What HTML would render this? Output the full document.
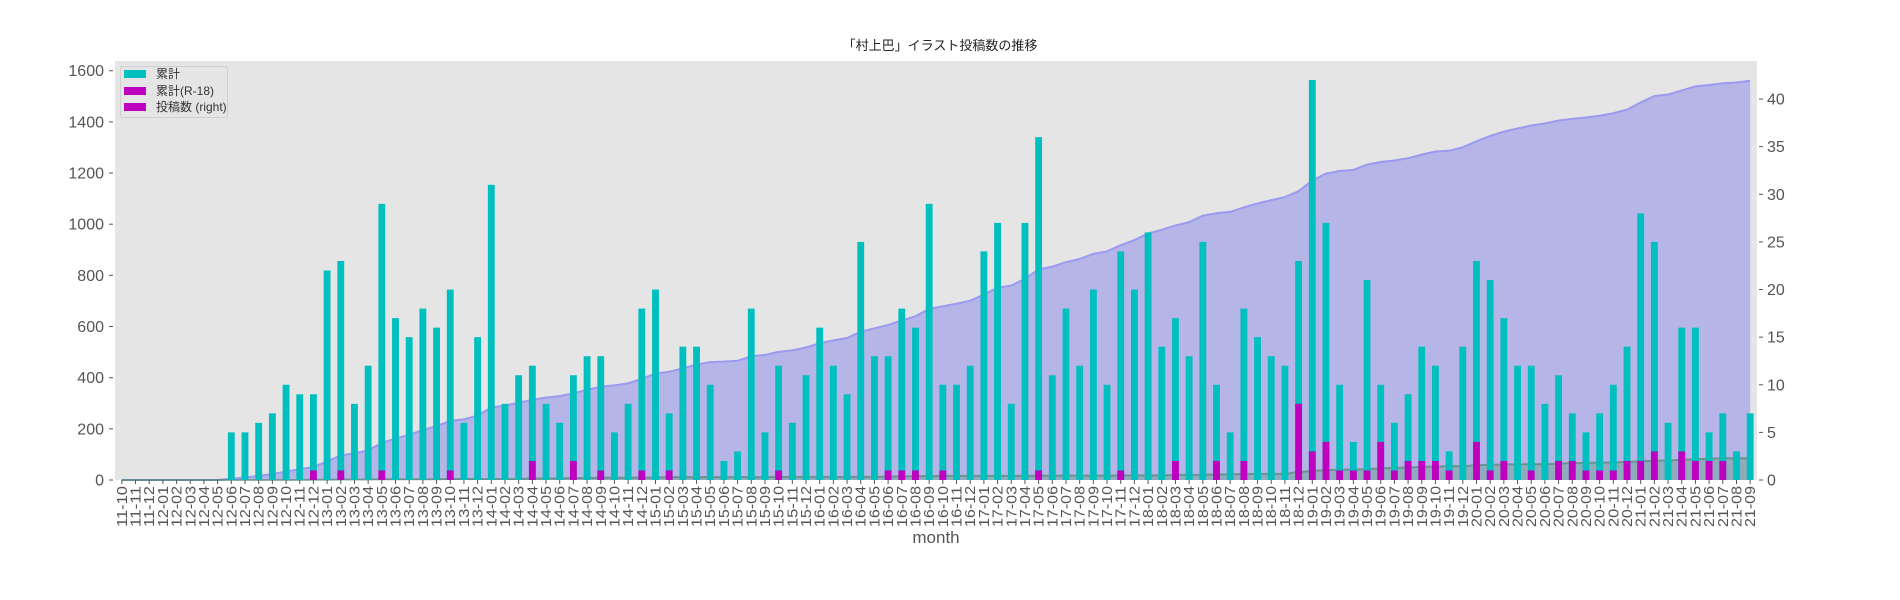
<!DOCTYPE html>
<html><head><meta charset="utf-8">
<style>
html,body{margin:0;padding:0;background:#fff;}
svg{display:block;}
text{font-family:"Liberation Sans Narrow","Liberation Sans","Noto Sans CJK JP",sans-serif;}
.cjk{font-family:"Liberation Sans","Noto Sans CJK JP",sans-serif;}
</style></head>
<body>
<svg id="chart" width="1900" height="600" viewBox="0 0 1900 600" xmlns="http://www.w3.org/2000/svg">
  <rect x="0" y="0" width="1900" height="600" fill="#ffffff"/>
  <text x="940" y="50" text-anchor="middle" font-size="13" fill="#222" class="cjk">「村上巴」イラスト投稿数の推移</text>
  <rect x="115" y="61" width="1642" height="419" fill="#e5e5e5"/>
  <g id="areas"></g>
  <g id="bars"></g>
  <g id="xaxis"></g>
  <g id="yleft"></g>
  <g id="yright"></g>
  <text x="936" y="543" text-anchor="middle" font-size="17" fill="#555">month</text>
  <g>
    <rect x="120.5" y="66.5" width="107" height="51" rx="2" fill="#e5e5e5" stroke="#d0d0d0"/>
    <rect x="124" y="70" width="22" height="8" fill="#00bfbf"/>
    <text x="156" y="78" font-size="12" fill="#333" class="cjk">累計</text>
    <rect x="124" y="87" width="22" height="8" fill="#bf00bf"/>
    <text x="156" y="95" font-size="12" fill="#333" class="cjk">累計(R-18)</text>
    <rect x="124" y="103" width="22" height="8" fill="#bf00bf"/>
    <text x="156" y="111" font-size="12" fill="#333" class="cjk">投稿数 (right)</text>
  </g>
</svg>
<script>
const months = [];
const years = ['11','12','13','14','15','16','17','18','19','20','21'];
for (const y of years) for (let m = 1; m <= 12; m++) {
  const lab = y + '-' + String(m).padStart(2,'0');
  if ((y === '11' && m < 10) || (y === '21' && m > 9)) continue;
  months.push(lab);
}
const posts = [0,0,0,0,0,0,0,0,
 5,5,6,7,10,9,9,22,23,8,12,29,17,
 15,18,16,20,6,15,31,8,11,12,8,6,11,13,13,5,8,18,20,7,
 14,14,10,2,3,18,5,12,6,11,16,12,9,25,13,13,18,16,29,
 10,10,12,24,27,8,27,36,11,18,12,20,10,24,20,26,14,17,13,25,
 10,5,18,15,13,12,23,42,27,10,4,21,10,6,9,14,12,3,14,
 23,21,17,12,12,8,11,7,5,7,10,14,28,25,6,16,16,5,7,3,7];
const postsR18 = [0,0,0,0,0,0,0,0,
 0,0,0,0,0,0,1,0,1,0,0,1,0,
 0,0,0,1,0,0,0,0,0,2,0,0,2,0,1,0,0,1,0,1,
 0,0,0,0,0,0,0,1,0,0,0,0,0,0,0,1,1,1,0,
 1,0,0,0,0,0,0,1,0,0,0,0,0,1,0,0,0,2,0,0,
 2,0,2,0,0,0,8,3,4,1,1,1,4,1,2,2,2,1,0,
 4,1,2,0,1,0,2,2,1,1,1,2,2,3,0,3,2,2,2,0,0];
const leftTicks = [0,200,400,600,800,1000,1200,1400,1600];
const rightTicks = [0,5,10,15,20,25,30,35,40];

const L=115, R=1757, T=61, B=480, LMAX=1638, RMAX=44.0;
const n = months.length, step = (R-L)/n;
const xOf = i => L + (i+0.5)*step;
const yL = v => B - v*(B-T)/LMAX;
const yR = v => B - v*(B-T)/RMAX;
const NS='http://www.w3.org/2000/svg';
function mk(tag, attrs, parent){const e=document.createElementNS(NS,tag);for(const k in attrs)e.setAttribute(k,attrs[k]);parent.appendChild(e);return e;}

// cumulative series
const cum=[], cumR=[]; let s=0, sr=0;
for(let i=0;i<n;i++){s+=posts[i];sr+=postsR18[i];cum.push(s);cumR.push(sr);}
const areas=document.getElementById('areas');
function areaPath(arr){let d='M'+xOf(0)+','+yL(0);arr.forEach((v,i)=>d+=' L'+xOf(i)+','+yL(v));d+=' L'+xOf(n-1)+','+yL(0)+' Z';return d;}
function linePath(arr){return arr.map((v,i)=>(i?'L':'M')+xOf(i)+','+yL(v)).join(' ');}
const a1=mk('path',{d:areaPath(cum),fill:'#b5b5e8'},areas);


const l1=mk('path',{d:linePath(cum),fill:'none',stroke:'#9a9af0','stroke-width':2},areas);


const a2=mk('path',{d:areaPath(cumR),fill:'rgba(80,150,110,0.35)'},areas);


const l2=mk('path',{d:linePath(cumR),fill:'none',stroke:'rgba(70,130,100,0.6)','stroke-width':2},areas);



// bars
const bars=document.getElementById('bars');
const bw=step*0.5;
for(let i=0;i<n;i++){
  if(posts[i]>0){
    const b=mk('rect',{x:xOf(i)-bw/2,y:yR(posts[i]),width:bw,height:B-yR(posts[i]),fill:'#00bfbf'},bars);
    
    
  }
  if(postsR18[i]>0){
    const m=mk('rect',{x:xOf(i)-bw/2,y:yR(postsR18[i]),width:bw,height:B-yR(postsR18[i]),fill:'#bf00bf'},bars);
    
    
  }
}

// x axis
const xa=document.getElementById('xaxis');
months.forEach((lab,i)=>{
  const x=xOf(i);
  mk('line',{x1:x,y1:B,x2:x,y2:B+4,stroke:'#555','stroke-width':1},xa);
  const t=mk('text',{x:0,y:0,transform:'translate('+(x+5)+','+(B+6)+') rotate(-90)','text-anchor':'end','font-size':'15',fill:'#555',textLength:'41',lengthAdjust:'spacingAndGlyphs'},xa);
  t.textContent=lab;
  
  
});

// left axis
const yl=document.getElementById('yleft');
leftTicks.forEach(v=>{
  const y=yL(v);
  mk('line',{x1:L-6,y1:y,x2:L-2,y2:y,stroke:'#555','stroke-width':1},yl);
  const t=mk('text',{x:L-11,y:y+5.5,'text-anchor':'end','font-size':'16',fill:'#555'},yl);
  t.textContent=v;
  
  
});

// right axis
const yr=document.getElementById('yright');
rightTicks.forEach(v=>{
  const y=yR(v);
  mk('line',{x1:R+2,y1:y,x2:R+6,y2:y,stroke:'#555','stroke-width':1},yr);
  const t=mk('text',{x:R+10,y:y+5.5,'text-anchor':'start','font-size':'16',fill:'#555'},yr);
  t.textContent=v;
  
  
});
</script>
</body></html>
